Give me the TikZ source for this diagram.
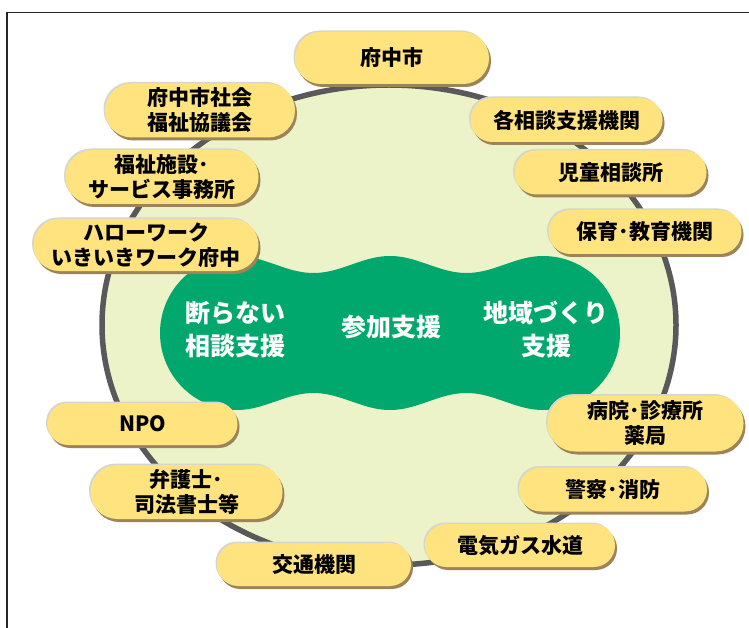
\documentclass[tikz,border=0pt]{standalone}
\usepackage{fontspec}
\newfontfamily\jp{Noto Sans CJK JP}
\usetikzlibrary{shadows}
\definecolor{pillY}{HTML}{FFE37E}
\definecolor{pillB}{HTML}{9C8458}
\definecolor{pillH}{HTML}{D6D6CE}
\definecolor{ringG}{HTML}{59585A}
\definecolor{ringF}{HTML}{EDF3C8}
\definecolor{blobG}{HTML}{00A86E}
\begin{document}
\begin{tikzpicture}[x=1pt,y=-1pt,
  pill/.style={rectangle, rounded corners=21.8pt, fill=pillY, minimum width=192pt,
    minimum height=44pt, inner sep=0pt, align=center,
    font=\jp\bfseries\fontsize{21}{25}\selectfont,
    general shadow={fill=pillH, shadow xshift=-1.5pt, shadow yshift=1.5pt},
    general shadow={fill=pillB, shadow xshift=2pt, shadow yshift=-3pt}},
  pilltwo/.style={pill, minimum height=54pt, rounded corners=26.8pt},
  blobtext/.style={text=white, align=center, font=\jp\bfseries\fontsize{25}{33}\selectfont}]
\useasboundingbox (0,0) rectangle (749,628);
\fill[white] (0,0) rectangle (749,628);
\draw[line width=1.3pt, black!85] (7,628) -- (7,12.5) -- (749,12.5);
\draw[ringG, line width=5.5pt, fill=ringF] (389,325) ellipse [x radius=287, y radius=240];
\fill[blobG] plot[domain=237:543, samples=90] (\x, {333-68.5-8.5*cos(((\x-237)/153)*360)})
  arc[start angle=-90, end angle=90, radius=77]
  -- plot[domain=543:237, samples=90] (\x, {333+68.5+8.5*cos(((\x-237)/153)*360)})
  arc[start angle=90, end angle=270, radius=77] -- cycle;
\node[blobtext] (b1) at (235,329.5) {断らない\\相談支援};
\node[blobtext] (b2) at (391,327.5) {参加支援};
\node[blobtext] (b3) at (546,329.5) {地域づくり\\支援};
\node[pill, minimum width=194pt, minimum height=52pt, rounded corners=25.8pt] (p1) at (392,58) {府中市};
\node[pilltwo, minimum width=190pt] (p2) at (200,110.5) {府中市社会\\福祉協議会};
\node[pill] (p3) at (566.5,120) {各相談支援機関};
\node[pilltwo, minimum width=193pt] (p4) at (162,177) {福祉施設･\\サービス事務所};
\node[pill] (p5) at (610.5,172.5) {児童相談所};
\node[pill, minimum width=193pt] (p6) at (645,232) {保育･教育機関};
\node[pilltwo, minimum width=225pt, minimum height=52pt, rounded corners=25.8pt] (p7) at (146,245) {ハローワーク\\いきいきワーク府中};
\node[pill, minimum width=190pt, minimum height=42pt, rounded corners=20.8pt] (p8) at (142.5,424) {NPO};
\node[pilltwo, minimum width=196pt, minimum height=56pt, rounded corners=27.8pt] (p9) at (645.5,423.5) {病院･診療所\\薬局};
\node[pilltwo] (p10) at (186.5,492) {弁護士･\\司法書士等};
\node[pill, minimum width=188pt] (p11) at (613,489.5) {警察･消防};
\node[pill, minimum width=190pt, minimum height=43pt, rounded corners=21.3pt] (p12) at (520,545.5) {電気ガス水道};
\node[pill, minimum width=194pt, minimum height=43pt, rounded corners=21.3pt] (p13) at (314,564.5) {交通機関};
\end{tikzpicture}
\end{document}
